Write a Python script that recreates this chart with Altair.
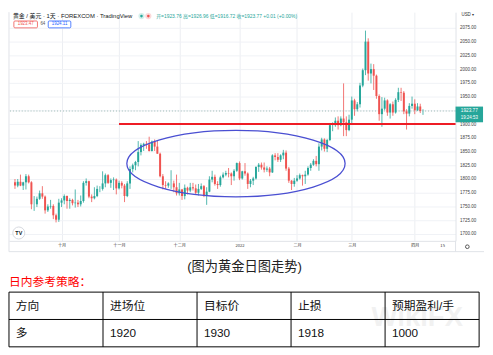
import altair as alt
import pandas as pd

# ---------------- data ----------------
dates = [d.strftime("%Y-%m-%d") for d in pd.bdate_range("2021-09-08", "2022-04-06")]
dates = [d for d in dates if d != "2021-12-24"]

opens = [
    1794, 1788, 1795, 1788, 1794, 1805, 1794, 1754, 1754, 1764, 1774, 1768, 1743, 1750, 1751, 1734, 1726,
    1757, 1761, 1769, 1760, 1762, 1756, 1757, 1754, 1760, 1793, 1796, 1768, 1765, 1769, 1782, 1782, 1792, 1807, 1793, 1798, 1799,
    1783, 1793, 1788, 1769, 1792, 1818, 1825, 1831, 1849, 1862, 1864, 1863, 1851, 1868, 1859, 1846, 1805, 1789, 1788, 1792, 1792, 1785,
    1774, 1781, 1769, 1784, 1779, 1785, 1783, 1775, 1782, 1787, 1770, 1777, 1799, 1804, 1791, 1789, 1803, 1808, 1811, 1810, 1805, 1815,
    1829, 1801, 1814, 1810, 1791, 1797, 1801, 1822, 1826, 1821, 1817, 1819, 1812, 1843, 1840, 1835, 1843, 1848, 1819, 1797, 1791,
    1797, 1801, 1807, 1805, 1808, 1820, 1826, 1833, 1827, 1859, 1872, 1855, 1871, 1898, 1898, 1906, 1898, 1910, 1903, 1889,
    1908, 1943, 1927, 1936, 1970, 1998, 2050, 1992, 2000, 1988, 1951, 1918, 1928, 1943, 1921, 1936, 1921, 1944, 1958, 1957, 1923, 1919, 1933,
    1937, 1925, 1932, 1923.76,
]
highs = [
    1800, 1800, 1808, 1795, 1809, 1808, 1796, 1769, 1768, 1779, 1787, 1770, 1754, 1762, 1754, 1737, 1764,
    1765, 1772, 1770, 1765, 1764, 1781, 1762, 1770, 1796, 1801, 1797, 1772, 1785, 1788, 1787, 1814, 1810, 1809, 1801, 1803, 1801,
    1797, 1796, 1791, 1796, 1823, 1828, 1833, 1869, 1865, 1866, 1869, 1877, 1870, 1872, 1870, 1848, 1809, 1796, 1794, 1816, 1797, 1808,
    1793, 1782, 1790, 1786, 1793, 1793, 1790, 1791, 1792, 1789, 1785, 1805, 1815, 1808, 1796, 1806, 1812, 1815, 1820, 1812, 1818, 1830,
    1832, 1815, 1829, 1812, 1800, 1804, 1823, 1829, 1830, 1830, 1823, 1822, 1845, 1847, 1847, 1845, 1853, 1852, 1822, 1798, 1802,
    1807, 1810, 1808, 1815, 1823, 1829, 1836, 1842, 1865, 1875, 1874, 1873, 1902, 1903, 1912, 1914, 1914, 1974, 1914, 1917,
    1950, 1946, 1940, 1975, 2001, 2070, 2056, 2010, 2009, 1990, 1954, 1949, 1948, 1945, 1938, 1941, 1947, 1966, 1966, 1960, 1927, 1938, 1950,
    1945, 1938, 1937, 1926.96,
]
lows = [
    1782, 1785, 1787, 1780, 1781, 1792, 1745, 1742, 1749, 1762, 1764, 1737, 1740, 1746, 1727, 1721, 1722,
    1749, 1754, 1746, 1746, 1752, 1748, 1749, 1750, 1757, 1788, 1765, 1758, 1763, 1767, 1776, 1779, 1785, 1791, 1784, 1780, 1772,
    1781, 1783, 1758, 1767, 1782, 1812, 1816, 1823, 1843, 1851, 1855, 1850, 1850, 1851, 1846, 1803, 1781, 1782, 1784, 1782, 1776, 1770,
    1770, 1762, 1763, 1772, 1776, 1779, 1771, 1770, 1780, 1767, 1753, 1776, 1794, 1788, 1782, 1786, 1801, 1805, 1803, 1789, 1797, 1813,
    1798, 1799, 1806, 1782, 1785, 1789, 1799, 1813, 1817, 1812, 1813, 1805, 1811, 1834, 1831, 1831, 1836, 1815, 1793, 1780, 1786,
    1795, 1799, 1788, 1791, 1806, 1815, 1824, 1823, 1815, 1852, 1850, 1849, 1869, 1887, 1895, 1890, 1896, 1878, 1878, 1887,
    1899, 1915, 1923, 1930, 1967, 1989, 1979, 1974, 1962, 1946, 1906, 1895, 1925, 1915, 1910, 1915, 1919, 1940, 1942, 1918, 1890, 1914, 1928,
    1918, 1924, 1920, 1916.72,
]
closes = [
    1788, 1795, 1788, 1794, 1805, 1794, 1754, 1754, 1764, 1774, 1768, 1743, 1750, 1751, 1734, 1726, 1757,
    1761, 1769, 1760, 1762, 1756, 1757, 1754, 1760, 1793, 1796, 1768, 1765, 1769, 1782, 1782, 1792, 1807, 1793, 1798, 1799, 1783,
    1793, 1788, 1769, 1792, 1818, 1825, 1831, 1849, 1862, 1864, 1863, 1851, 1868, 1859, 1846, 1805, 1789, 1788, 1792, 1792, 1785, 1774,
    1781, 1769, 1784, 1779, 1785, 1783, 1775, 1782, 1787, 1770, 1777, 1799, 1804, 1791, 1789, 1803, 1808, 1811, 1810, 1805, 1815, 1829,
    1801, 1814, 1810, 1791, 1797, 1801, 1822, 1826, 1821, 1817, 1819, 1812, 1843, 1840, 1835, 1843, 1848, 1819, 1797, 1791, 1797,
    1801, 1807, 1805, 1808, 1820, 1826, 1833, 1827, 1859, 1872, 1855, 1871, 1898, 1898, 1906, 1898, 1910, 1903, 1889, 1908,
    1943, 1927, 1936, 1970, 1998, 2050, 1992, 2000, 1988, 1951, 1918, 1928, 1943, 1921, 1936, 1921, 1944, 1958, 1957, 1923, 1919, 1933, 1937,
    1925, 1932, 1923.76, 1923.77,
]

month_labels = ["十月", "十一月", "十二月", "2022", "二月", "三月", "四月", "15"]
month_starts = ["2021-10-01", "2021-11-01", "2021-12-01", "2022-01-03",
                "2022-02-01", "2022-03-01", "2022-04-01", "2022-04-15"]
price_ticks = list(range(1700, 2076, 25))

support_level = 1900
support_from = "2021-11-01"
ellipse_center_idx = 80.7
ellipse_center_price = 1828

header_title = "黄金 / 美元 · 1天 · FOREXCOM · TradingView"
header_change = "+0.01 (+0.00%)"
bid_text, spread_text, ask_text = "1923.47", "64", "1924.11"
countdown = "19:24:53"

caption = "(图为黄金日图走势)"
strategy_title = "日内参考策略："
table_header = ["方向", "进场位", "目标价", "止损", "预期盈利/手"]
table_row = ["多", "1920", "1930", "1918", "1000"]

# ---------------- helpers ----------------
UP = "#26a69a"
DOWN = "#ef5350"
LAT = "Liberation Sans, Noto Sans CJK SC"


def idx_of(d):
    if d in dates:
        return dates.index(d)
    extra = pd.bdate_range(dates[-1], d)
    return len(dates) - 1 + len(extra) - 1


W, H = 455, 233
xs = alt.Scale(domain=[-0.4, 159.1], nice=False, zero=False)
ys = alt.Scale(domain=[1687.5, 2103.6], nice=False, zero=False)

tick_idx = [idx_of(d) for d in month_starts]
label_expr = "".join(f"datum.value == {v} ? '{t}' : " for v, t in zip(tick_idx, month_labels)) + "''"

AX_X = alt.Axis(
    values=tick_idx, labelExpr=label_expr, title=None, grid=True,
    gridColor={"condition": {"test": f"datum.value == {tick_idx[-1]}", "value": "transparent"},
               "value": "#eceef2"},
    domain=True, domainColor="#dfe2e8", ticks=False, labelFontSize=4.2,
    labelFont="Noto Sans CJK SC", labelColor="#333", labelPadding=3,
    labelFlush=False, labelOverlap=False, labelBound=False)
AX_Y = alt.Axis(
    orient="right", values=price_ticks, format=".2f", title=None, grid=True,
    gridColor="#f0f2f6", domain=True, domainColor="#dfe2e8", ticks=False,
    labelFontSize=4.6, labelFont="Liberation Sans", labelColor="#444",
    labelPadding=4, labelFlush=False, labelOverlap=False, tickCount=16)


def X(f):
    return alt.X(f, scale=xs, axis=AX_X)


def Y(f):
    return alt.Y(f, scale=ys, axis=AX_Y)


df = pd.DataFrame({"i": list(range(len(dates))), "date": dates, "open": opens,
                   "high": highs, "low": lows, "close": closes})
up_cond = alt.condition("datum.close >= datum.open", alt.value(UP), alt.value(DOWN))

one = pd.DataFrame({"k": [0]})

# ---------------- top: candlestick panel ----------------
wicks = alt.Chart(df).mark_rule(strokeWidth=1, opacity=0.8).encode(
    x=X("i:Q"), y=Y("low:Q"), y2="high:Q", color=up_cond)
bodies = alt.Chart(df).mark_bar(size=2).encode(x=X("i:Q"), y=Y("open:Q"), y2="close:Q", color=up_cond)

frame = alt.Chart(one).mark_rule(color="#dfe2e8", strokeWidth=1)
frame_left = frame.encode(x=alt.value(0), y=alt.value(0), y2=alt.value(H + 11))
frame_bottom = frame.encode(x=alt.value(0), x2=alt.value(484), y=alt.value(H + 11))
frame_sep = frame.encode(x=alt.value(W), y=alt.value(H), y2=alt.value(H + 11))

last_df = pd.DataFrame({"p": [closes[-1]], "cd": [countdown]})
dotted = alt.Chart(last_df).mark_rule(color="#9bbab5", strokeDash=[1, 2], strokeWidth=1).encode(y=Y("p:Q"))

sr_df = pd.DataFrame({"i": [idx_of(support_from)], "p": [support_level]})
red_line = alt.Chart(sr_df).mark_rule(color="#ee1c25", strokeWidth=2).encode(
    x=X("i:Q"), x2=alt.value(W), y=Y("p:Q"))

ELLIPSE = ("M -1 0 C -1 -0.168 -0.552 -0.304 0 -0.304 C 0.552 -0.304 1 -0.168 1 0 "
           "C 1 0.168 0.552 0.304 0 0.304 C -0.552 0.304 -1 0.168 -1 0 Z")
ell_df = pd.DataFrame({"i": [ellipse_center_idx], "p": [ellipse_center_price]})
ellipse = alt.Chart(ell_df).mark_point(shape=ELLIPSE, size=(2 * 111.2) ** 2, filled=False,
                                       color="#4a4fd2", strokeWidth=1.3, opacity=1).encode(
    x=X("i:Q"), y=Y("p:Q"))

hdr = alt.Chart(pd.DataFrame({"t": [header_title]})).mark_text(
    align="left", baseline="middle", fontSize=6, font=LAT, color="#131722").encode(
    text="t:N", x=alt.value(4), y=alt.value(3.5))
dot_bg1 = alt.Chart(one).mark_point(shape="circle", filled=True, size=40, color="#d6efeb", opacity=1).encode(
    x=alt.value(135), y=alt.value(4))
dot_bg2 = alt.Chart(one).mark_point(shape="circle", filled=True, size=40, color="#fbdada", opacity=1).encode(
    x=alt.value(142), y=alt.value(4))
dot1 = alt.Chart(one).mark_point(shape="circle", filled=True, size=7, color=UP, opacity=1).encode(
    x=alt.value(135), y=alt.value(4))
dot2 = alt.Chart(one).mark_point(shape="circle", filled=True, size=7, color=DOWN, opacity=1).encode(
    x=alt.value(142), y=alt.value(4))

ohlc_text = (f"开={opens[-1]:.2f} 高={highs[-1]:.2f} 低={lows[-1]:.2f} 收={closes[-1]:.2f} "
             + header_change)
ohlc = alt.Chart(pd.DataFrame({"t": [ohlc_text]})).mark_text(
    align="left", baseline="middle", fontSize=5, font=LAT, color=UP).encode(
    text="t:N", x=alt.value(150), y=alt.value(3.5))

box_bid = alt.Chart(one).mark_rect(fill="white", stroke=DOWN, strokeWidth=0.8, cornerRadius=1).encode(
    x=alt.value(5), x2=alt.value(29), y=alt.value(9), y2=alt.value(16))
box_ask = alt.Chart(one).mark_rect(fill="white", stroke="#2962ff", strokeWidth=0.8, cornerRadius=1).encode(
    x=alt.value(40), x2=alt.value(63), y=alt.value(9), y2=alt.value(16))
bid = alt.Chart(pd.DataFrame({"t": [bid_text]})).mark_text(
    align="center", baseline="middle", fontSize=4.5, font=LAT, color=DOWN).encode(
    text="t:N", x=alt.value(17), y=alt.value(12.5))
spread = alt.Chart(pd.DataFrame({"t": [spread_text]})).mark_text(
    align="center", baseline="middle", fontSize=4.5, font=LAT, color="#555").encode(
    text="t:N", x=alt.value(34.5), y=alt.value(12.5))
ask = alt.Chart(pd.DataFrame({"t": [ask_text]})).mark_text(
    align="center", baseline="middle", fontSize=4.5, font=LAT, color="#2962ff").encode(
    text="t:N", x=alt.value(51.5), y=alt.value(12.5))

usd = alt.Chart(pd.DataFrame({"t": ["USD ▾"]})).mark_text(
    align="left", baseline="middle", fontSize=4.5, font=LAT, color="#333").encode(
    text="t:N", x=alt.value(461), y=alt.value(3))

RECT = "M -1 -0.571 L 1 -0.571 L 1 0.571 L -1 0.571 Z"
pbox = alt.Chart(last_df).mark_point(shape=RECT, size=784, filled=True, color=UP, opacity=1,
                                     yOffset=3.5).encode(x=alt.value(469), y=Y("p:Q"))
ptext = alt.Chart(last_df).mark_text(fontSize=4.8, font=LAT, color="white", align="center",
                                     baseline="middle").encode(
    x=alt.value(469), y=Y("p:Q"), text=alt.Text("p:Q", format=".2f"))
ctext = alt.Chart(last_df).mark_text(fontSize=4.5, font=LAT, color="white", align="center",
                                     baseline="middle", dy=7.5).encode(
    x=alt.value(469), y=Y("p:Q"), text="cd:N")

tv_circle = alt.Chart(one).mark_point(shape="circle", size=150, filled=True, fill="white",
                                      stroke="#d5d8de", strokeWidth=1, opacity=1).encode(
    x=alt.value(10), y=alt.value(225))
tv_text = alt.Chart(pd.DataFrame({"t": ["TV"]})).mark_text(
    fontSize=5.5, fontWeight="bold", font=LAT, color="#131722", align="center", baseline="middle").encode(
    text="t:N", x=alt.value(10), y=alt.value(225))
gear = alt.Chart(one).mark_point(shape="circle", size=14, filled=False, color="#555",
                                 strokeWidth=1, opacity=1).encode(x=alt.value(467), y=alt.value(239))

top = alt.layer(
    wicks, frame_left, frame_bottom, frame_sep, dotted, bodies, red_line, ellipse,
    hdr, dot_bg1, dot_bg2, dot1, dot2, ohlc, box_bid, box_ask, bid, spread, ask, usd,
    pbox, ptext, ctext, tv_circle, tv_text, gear,
).properties(width=W, height=H)

# ---------------- bottom: caption + strategy table ----------------
BW, BH = 479, 92
ncol = len(table_header)
nrow = 2
xs2 = alt.Scale(domain=[0, ncol], nice=False, zero=False)
ys2 = alt.Scale(domain=[-1.3, nrow], nice=False, zero=False, reverse=True)

cells_df = pd.DataFrame({
    "col": list(range(ncol)) * 2,
    "row": [0] * ncol + [1] * ncol,
    "text": table_header + table_row,
})
cells = alt.Chart(cells_df).transform_calculate(yc="datum.row + 0.5").mark_text(
    align="left", baseline="middle", dx=7, fontSize=12, font=LAT, color="#111").encode(
    x=alt.X("col:Q", scale=xs2, axis=None), y=alt.Y("yc:Q", scale=ys2, axis=None), text="text:N")

hl_df = pd.DataFrame({"r": list(range(nrow + 1)), "a": [0] * (nrow + 1), "b": [ncol] * (nrow + 1)})
hlines = alt.Chart(hl_df).mark_rule(color="#000", strokeWidth=1).encode(
    x=alt.X("a:Q", scale=xs2, axis=None), x2="b:Q", y=alt.Y("r:Q", scale=ys2, axis=None))
vl_df = pd.DataFrame({"c": list(range(ncol + 1)), "a": [0] * (ncol + 1), "b": [nrow] * (ncol + 1)})
vlines = alt.Chart(vl_df).mark_rule(color="#000", strokeWidth=1).encode(
    x=alt.X("c:Q", scale=xs2, axis=None), y=alt.Y("a:Q", scale=ys2, axis=None), y2="b:Q")

cap = alt.Chart(pd.DataFrame({"t": [caption]})).mark_text(
    align="center", baseline="middle", fontSize=13.5, font=LAT, color="#222").encode(
    text="t:N", x=alt.value(240), y=alt.value(10.5))
red_title = alt.Chart(pd.DataFrame({"t": [strategy_title]})).mark_text(
    align="left", baseline="middle", fontSize=12, font=LAT, color="#ff0000").encode(
    text="t:N", x=alt.value(0), y=alt.value(26.5))
wm = alt.Chart(pd.DataFrame({"t": ["WikiFX"]})).mark_text(
    align="center", baseline="middle", fontSize=28, fontWeight="bold", font=LAT,
    color="#000", opacity=0.05).encode(text="t:N", x=alt.value(416), y=alt.value(62.5))

bottom = alt.layer(hlines, vlines, cells, cap, red_title, wm).properties(width=BW, height=BH)

chart = alt.vconcat(top, bottom, spacing=4).properties(
    padding=0, background="white").configure_view(stroke=None)

chart.save("out.html", embed_options={"renderer": "svg", "actions": False})
